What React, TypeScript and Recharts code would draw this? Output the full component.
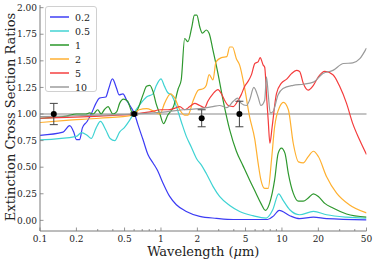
import { ComposedChart, Line, Scatter, ErrorBar, XAxis, YAxis, ReferenceLine } from "recharts";

const W = 374;
const H = 261;
const FRAME = "#7a7a7a";
const FONT = "DejaVu Serif";

// wavelength (um), ratio
const r02 = [
  [0.1, 0.8], [0.155, 0.83], [0.176, 0.89], [0.19, 0.83], [0.2, 0.76], [0.213, 0.76], [0.224, 0.87],
  [0.245, 0.93], [0.265, 1.0], [0.29, 1.1], [0.31, 1.15], [0.35, 1.16], [0.37, 1.24], [0.397, 1.33],
  [0.43, 1.24], [0.45, 1.18], [0.485, 1.19], [0.52, 1.13], [0.56, 1.07], [0.605, 1.0], [0.645, 0.9],
  [0.71, 0.76], [0.78, 0.62], [0.86, 0.54], [0.93, 0.475], [1.04, 0.35], [1.18, 0.225], [1.34, 0.147],
  [1.62, 0.084], [2.09, 0.038], [2.88, 0.019], [3.96, 0.008], [7.6, 0.008], [8.5, 0.04], [9.5, 0.094],
  [11.6, 0.044], [14, 0.016], [18.2, 0.03], [23.4, 0.016], [50, 0.005],
];

const r05 = [
  [0.1, 0.756], [0.2, 0.79], [0.22, 0.825], [0.245, 0.8], [0.265, 0.77], [0.29, 0.865], [0.316, 0.93],
  [0.35, 0.85], [0.38, 0.77], [0.415, 0.75], [0.455, 0.83], [0.5, 0.875], [0.55, 0.94], [0.605, 1.02],
  [0.66, 1.08], [0.76, 1.16], [0.86, 1.19], [0.91, 1.26], [1.0, 1.33], [1.07, 1.26], [1.14, 1.2],
  [1.22, 1.18], [1.34, 1.07], [1.47, 0.93], [1.62, 0.79], [1.78, 0.69], [1.97, 0.58], [2.16, 0.52],
  [2.37, 0.44], [2.69, 0.32], [3.05, 0.225], [3.7, 0.14], [4.47, 0.084], [5.76, 0.044], [7.4, 0.022],
  [8.4, 0.1], [9.4, 0.25], [10.2, 0.19], [11.6, 0.1], [14, 0.053], [18.2, 0.084], [23.4, 0.053],
  [34.2, 0.03], [50, 0.02],
];

const r1 = [
  [0.1, 0.96], [0.165, 0.98], [0.2, 1.0], [0.24, 1.0], [0.257, 1.01], [0.275, 1.0], [0.3, 1.04],
  [0.32, 1.0], [0.34, 1.04], [0.365, 1.07], [0.4, 1.0], [0.43, 1.02], [0.455, 1.1], [0.49, 1.14],
  [0.53, 1.12], [0.58, 1.01], [0.605, 1.0], [0.645, 1.05], [0.71, 1.18], [0.76, 1.26], [0.81, 1.27],
  [0.86, 1.21], [0.91, 1.1], [0.98, 1.0], [1.05, 0.91], [1.14, 0.99], [1.27, 1.07], [1.39, 1.24],
  [1.47, 1.32], [1.57, 1.71], [1.67, 1.68], [1.8, 1.82], [1.89, 1.93], [1.98, 1.93], [2.09, 1.82],
  [2.2, 1.76], [2.37, 1.79], [2.5, 1.76], [2.69, 1.6], [2.96, 1.38], [3.26, 1.13], [3.7, 0.85],
  [4.2, 0.65], [4.78, 0.51], [5.4, 0.38], [6.1, 0.256], [6.7, 0.16], [7.3, 0.094], [7.9, 0.16],
  [8.7, 0.38], [9.3, 0.63], [9.9, 0.68], [10.6, 0.63], [11.3, 0.44], [12.4, 0.256], [13.7, 0.18],
  [15, 0.18], [16.5, 0.21], [18.2, 0.25], [20, 0.225], [22.6, 0.16], [26.4, 0.116], [34.2, 0.06],
  [50, 0.03],
];

const r2 = [
  [0.1, 0.92], [0.165, 0.94], [0.31, 0.96], [0.59, 0.99], [0.66, 1.04], [0.76, 1.05], [0.86, 1.03],
  [0.98, 1.0], [1.07, 1.1], [1.2, 1.19], [1.3, 1.15], [1.43, 1.04], [1.57, 0.99], [1.67, 0.99],
  [1.85, 1.13], [2.04, 1.225], [2.25, 1.24], [2.37, 1.27], [2.5, 1.37], [2.69, 1.32], [2.85, 1.49],
  [3.16, 1.53], [3.5, 1.54], [3.7, 1.63], [3.9, 1.63], [4.2, 1.52], [4.47, 1.46], [4.92, 1.24],
  [5.4, 0.975], [5.97, 0.76], [6.35, 0.54], [6.7, 0.38], [7.2, 0.3], [7.7, 0.3], [8.2, 0.57],
  [8.7, 0.88], [9.6, 1.07], [10.3, 1.11], [11.3, 1.04], [12.4, 0.725], [13.7, 0.55], [15, 0.54],
  [16.5, 0.6], [18.2, 0.65], [20, 0.6], [23.4, 0.41], [28.3, 0.256], [36, 0.147], [50, 0.07],
];

const r5 = [
  [0.1, 0.96], [0.31, 0.98], [0.605, 1.0], [0.81, 1.02], [1.0, 1.04], [1.14, 1.04], [1.27, 1.05],
  [1.43, 1.07], [1.57, 1.04], [1.73, 1.07], [1.9, 1.1], [2.09, 1.08], [2.3, 1.06], [2.44, 1.12],
  [2.69, 1.19], [2.96, 1.23], [3.16, 1.19], [3.35, 1.13], [3.6, 1.08], [3.96, 1.07], [4.35, 1.13],
  [4.6, 1.18], [4.92, 1.26], [5.2, 1.3], [5.6, 1.37], [5.97, 1.475], [6.35, 1.49], [6.6, 1.53],
  [7.0, 1.46], [7.2, 1.44], [7.5, 1.13], [7.7, 0.94], [7.95, 0.725], [8.3, 0.88], [9.0, 1.19],
  [9.9, 1.29], [11, 1.33], [12, 1.38], [13.2, 1.41], [14, 1.4], [15, 1.29], [16.5, 1.225],
  [18.2, 1.27], [20, 1.35], [22.6, 1.4], [26.4, 1.37], [30, 1.26], [34.2, 1.1], [38.5, 0.91],
  [43.9, 0.756], [50, 0.62],
];

const r10 = [
  [0.1, 0.975], [0.31, 0.99], [0.605, 1.0], [1.1, 1.02], [1.52, 1.04], [2.09, 1.05], [2.69, 1.07],
  [3.05, 1.08], [3.5, 1.06], [3.96, 1.12], [4.3, 1.15], [4.6, 1.1], [5.1, 1.08], [5.4, 1.13],
  [5.86, 1.25], [6.35, 1.16], [6.7, 1.08], [7.2, 1.13], [7.45, 1.35], [7.7, 1.19], [8.0, 1.01],
  [8.4, 1.02], [9.3, 1.18], [10.2, 1.24], [12.4, 1.27], [15, 1.28], [18.2, 1.3], [21.8, 1.38],
  [26.4, 1.41], [32.3, 1.475], [38.5, 1.48], [44, 1.52], [50, 1.62],
];

const obsWave = [0.13, 0.6, 2.17, 4.45];
const obsRatio = [1.0, 1.0, 0.96, 1.0];
const obsErr = [0.1, 0.01, 0.08, 0.12];

const MAJOR_X = [0.1, 0.2, 0.5, 1, 2, 5, 10, 20, 50];
const MINOR_X = [0.3, 0.4, 0.6, 0.7, 0.8, 0.9, 3, 4, 6, 7, 8, 9, 30, 40];
const Y_TICKS = [0, 0.25, 0.5, 0.75, 1, 1.25, 1.5, 1.75, 2];

const SERIES = [
  { name: "0.2", color: "#3c3cf4", legend: "#6f6ff7", data: r02 },
  { name: "0.5", color: "#3fd3d3", legend: "#72dede", data: r05 },
  { name: "1", color: "#2e982e", legend: "#5fb15f", data: r1 },
  { name: "2", color: "#ffb030", legend: "#ffc466", data: r2 },
  { name: "5", color: "#f43c3c", legend: "#f77070", data: r5 },
  { name: "10", color: "#9a9a9a", legend: "#b5b5b5", data: r10 },
];

const X_TICKS = [...MAJOR_X, ...MINOR_X].sort((a, b) => a - b);
const obsData = obsWave.map((x, i) => ({ x, y: obsRatio[i], err: obsErr[i] }));

function BottomTick(props: any) {
  const { x, y, payload } = props;
  const major = MAJOR_X.includes(payload.value);
  return (
    <g>
      <line x1={x} x2={x} y1={y} y2={y - (major ? 3.5 : 2)} stroke={FRAME} strokeWidth={0.8} />
      {major && (
        <text x={x} y={y + 10.5} textAnchor="middle" fontSize={9} fontFamily={FONT} fill="#222">
          {payload.value}
        </text>
      )}
    </g>
  );
}

function TopTick(props: any) {
  const { x, y, payload } = props;
  const major = MAJOR_X.includes(payload.value);
  return <line x1={x} x2={x} y1={y} y2={y + (major ? 3.5 : 2)} stroke={FRAME} strokeWidth={0.8} />;
}

function LeftTick(props: any) {
  const { x, y, payload } = props;
  return (
    <g>
      <line x1={x} x2={x + 3.5} y1={y} y2={y} stroke={FRAME} strokeWidth={0.8} />
      <text x={x - 3} y={y + 3.2} textAnchor="end" fontSize={9} fontFamily={FONT} fill="#222">
        {payload.value.toFixed(2)}
      </text>
    </g>
  );
}

function RightTick(props: any) {
  const { x, y } = props;
  return <line x1={x} x2={x - 3.5} y1={y} y2={y} stroke={FRAME} strokeWidth={0.8} />;
}

function XLabel(props: any) {
  const vb = props.viewBox;
  return (
    <text x={vb.x + vb.width / 2} y={256} textAnchor="middle" fontSize={13} fontFamily={FONT} fill="#222">
      Wavelength (<tspan fontStyle="italic">μ</tspan>m)
    </text>
  );
}

function YLabel(props: any) {
  const vb = props.viewBox;
  const cy = vb.y + vb.height / 2 - 1;
  return (
    <text x={15} y={cy} transform={`rotate(-90 15 ${cy})`} textAnchor="middle" fontSize={13} fontFamily={FONT} fill="#222">
      Extinction Cross Section Ratios
    </text>
  );
}

function LegendBox() {
  return (
    <div
      style={{
        position: "absolute",
        left: 45,
        top: 6,
        width: 52,
        height: 86,
        border: "1px solid #d0d0d0",
        borderRadius: 3,
        background: "rgba(255,255,255,0.8)",
        boxSizing: "border-box",
        paddingTop: 3,
      }}
    >
      {SERIES.map((s) => (
        <div key={s.name} style={{ display: "flex", alignItems: "center", height: 14 }}>
          <div style={{ width: 19, height: 2, background: s.legend, marginLeft: 4, marginRight: 6 }} />
          <span style={{ fontFamily: FONT, fontSize: 9.5, color: "#222" }}>{s.name}</span>
        </div>
      ))}
    </div>
  );
}

export default function App() {
  return (
    <div style={{ position: "absolute", left: 0, top: 0, width: W, height: H, background: "#fff" }}>
      <ComposedChart width={W} height={H} margin={{ top: 5, right: 7.5, bottom: 0, left: 0 }}>
        <XAxis
          dataKey="x"
          type="number"
          scale="log"
          domain={[0.1, 50]}
          allowDataOverflow
          ticks={X_TICKS}
          interval={0}
          height={30}
          tickSize={0}
          tickMargin={0}
          tickLine={false}
          tick={BottomTick}
          axisLine={{ stroke: FRAME }}
          label={{ content: XLabel }}
        />
        <XAxis
          xAxisId="top"
          dataKey="x"
          orientation="top"
          type="number"
          scale="log"
          domain={[0.1, 50]}
          allowDataOverflow
          ticks={X_TICKS}
          interval={0}
          height={0}
          tickSize={0}
          tickMargin={0}
          tickLine={false}
          tick={TopTick}
          axisLine={{ stroke: FRAME }}
        />
        <YAxis
          type="number"
          domain={[-0.1, 2.025]}
          allowDataOverflow
          ticks={Y_TICKS}
          interval={0}
          width={40}
          tickSize={0}
          tickMargin={0}
          tickLine={false}
          tick={LeftTick}
          axisLine={{ stroke: FRAME }}
          label={{ content: YLabel }}
        />
        <YAxis
          yAxisId="right"
          orientation="right"
          type="number"
          domain={[-0.1, 2.025]}
          allowDataOverflow
          ticks={Y_TICKS}
          interval={0}
          width={0}
          tickSize={0}
          tickMargin={0}
          tickLine={false}
          tick={RightTick}
          axisLine={{ stroke: FRAME }}
        />
        <ReferenceLine y={1} stroke="#b0b0b0" strokeWidth={1.5} />
        {SERIES.map((s) => (
          <Line
            key={s.name}
            data={s.data.map(([x, y]) => ({ x, y }))}
            dataKey="y"
            type="monotone"
            stroke={s.color}
            strokeWidth={1.2}
            dot={false}
            isAnimationActive={false}
          />
        ))}
        <Scatter data={obsData} dataKey="y" fill="#000" isAnimationActive={false} shape={(p: any) => <circle cx={p.cx} cy={p.cy} r={3} fill="#000" />}>
          <ErrorBar dataKey="err" direction="y" width={4} stroke="#444" strokeWidth={1} isAnimationActive={false} />
        </Scatter>
      </ComposedChart>
      <LegendBox />
    </div>
  );
}
